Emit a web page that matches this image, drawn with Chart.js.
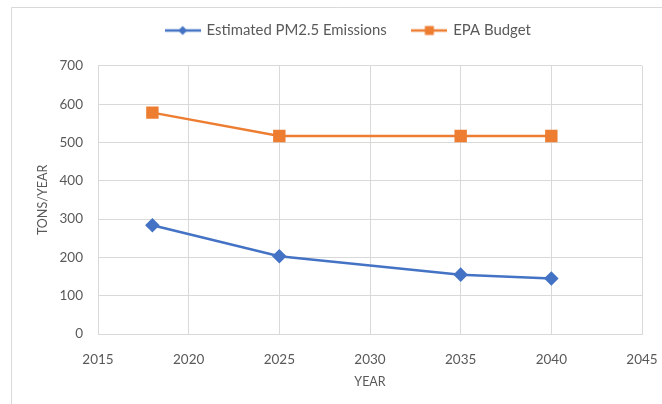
<!DOCTYPE html>
<html>
<head>
<meta charset="utf-8">
<script src="https://cdn.jsdelivr.net/npm/chart.js@4"></script>
<style>
  html, body { margin: 0; padding: 0; background: #fff; }
  #wrap { position: relative; width: 662px; height: 404px; }
</style>
</head>
<body>
<div id="wrap"><canvas id="chart" width="662" height="404"></canvas></div>
<script>
// data
const years = [2018, 2025, 2035, 2040];
const emissions = [284, 203, 155, 145];
const epaBudget = [578, 517, 517, 517];
const xTicks = [2015, 2020, 2025, 2030, 2035, 2040, 2045];
const yTicks = [0, 100, 200, 300, 400, 500, 600, 700];

const BLUE = '#4472C4';
const ORANGE = '#ED7D31';
const GRID = '#d9d9d9';
const TEXT = '#595959';
const FONT = 'Lato, "Open Sans", sans-serif';

// legend swatch: line with marker in the middle, like Excel
function swatch(color, shape) {
    const c = document.createElement('canvas');
    c.width = 36; c.height = 12;
    const g = c.getContext('2d');
    g.strokeStyle = color; g.lineWidth = 2.5;
    g.beginPath(); g.moveTo(0, 6); g.lineTo(36, 6); g.stroke();
    g.fillStyle = color;
    g.beginPath();
    if (shape === 'diamond') {
        g.moveTo(18, 1.5); g.lineTo(22.5, 6); g.lineTo(18, 10.5); g.lineTo(13.5, 6);
    } else {
        g.rect(13.5, 1.5, 9, 9);
    }
    g.fill();
    return c;
}

const toPoints = (xs, ys) => xs.map((x, i) => ({ x: x, y: ys[i] }));

// light frame on the left and top edge
const frame = {
    id: 'frame',
    beforeDraw(chart) {
        const ctx = chart.ctx;
        ctx.save();
        ctx.strokeStyle = GRID; ctx.lineWidth = 1;
        ctx.beginPath();
        ctx.moveTo(11.5, 404); ctx.lineTo(11.5, 7.5); ctx.lineTo(662, 7.5);
        ctx.stroke();
        ctx.restore();
    }
};

new Chart(document.getElementById('chart'), {
    type: 'line',
    data: {
        datasets: [{
            label: 'Estimated PM2.5 Emissions',
            data: toPoints(years, emissions),
            borderColor: BLUE,
            backgroundColor: BLUE,
            borderWidth: 2.5,
            pointStyle: 'rectRot',
            pointRadius: 5.5,
            pointHoverRadius: 5.5,
            tension: 0
        }, {
            label: 'EPA Budget',
            data: toPoints(years, epaBudget),
            borderColor: ORANGE,
            backgroundColor: ORANGE,
            borderWidth: 2.5,
            pointStyle: 'rect',
            pointRadius: 7,
            pointHoverRadius: 7,
            tension: 0
        }]
    },
    options: {
        responsive: false,
        animation: false,
        layout: { padding: { left: 55, right: 20, top: -3, bottom: 0 } },
        plugins: {
            tooltip: { enabled: false },
            // empty subtitle used as a spacer between legend and plot
            subtitle: { display: true, text: '', weight: 500, font: { size: 1, lineHeight: 1 }, padding: { top: 0, bottom: 17 } },
            legend: {
                position: 'top',
                labels: {
                    color: TEXT,
                    font: { family: FONT, size: 14.9 },
                    usePointStyle: true,
                    pointStyleWidth: 33,
                    padding: 26,
                    generateLabels: (chart) => chart.data.datasets.map((ds, i) => ({
                        text: ds.label,
                        fillStyle: ds.borderColor,
                        strokeStyle: ds.borderColor,
                        fontColor: TEXT,
                        lineWidth: 0,
                        pointStyle: swatch(ds.borderColor, i === 0 ? 'diamond' : 'square'),
                        datasetIndex: i
                    }))
                }
            }
        },
        scales: {
            x: {
                type: 'linear',
                min: 2015,
                max: 2045,
                afterBuildTicks: (s) => { s.ticks = xTicks.map(v => ({ value: v })); },
                // fixed height, and no extra side padding for the end labels
                afterFit: (s) => { s.height = 70; s.paddingLeft = 0; s.paddingRight = 0; },
                ticks: { color: TEXT, font: { family: FONT, size: 13.5 }, padding: 18, callback: (v) => String(v) },
                grid: { color: GRID, lineWidth: 1, drawTicks: false },
                border: { color: GRID },
                title: { display: true, text: 'YEAR', color: TEXT, font: { family: FONT, size: 12.5 }, padding: { top: 0, bottom: 15 } }
            },
            y: {
                min: 0,
                max: 700,
                afterBuildTicks: (s) => { s.ticks = yTicks.map(v => ({ value: v })); },
                afterFit: (s) => { s.width = 43; s.paddingTop = 0; s.paddingBottom = 0; },
                ticks: { color: TEXT, font: { family: FONT, size: 13.5 }, padding: 15 },
                grid: { color: GRID, lineWidth: 1, drawTicks: false },
                border: { color: GRID },
                // pulled left of the scale box so the legend can sit centred like the reference
                title: { display: true, text: 'TONS/YEAR', color: TEXT, font: { family: FONT, size: 12.5 }, padding: { top: -20, bottom: 0 } }
            }
        }
    },
    plugins: [frame]
});
</script>
</body>
</html>
